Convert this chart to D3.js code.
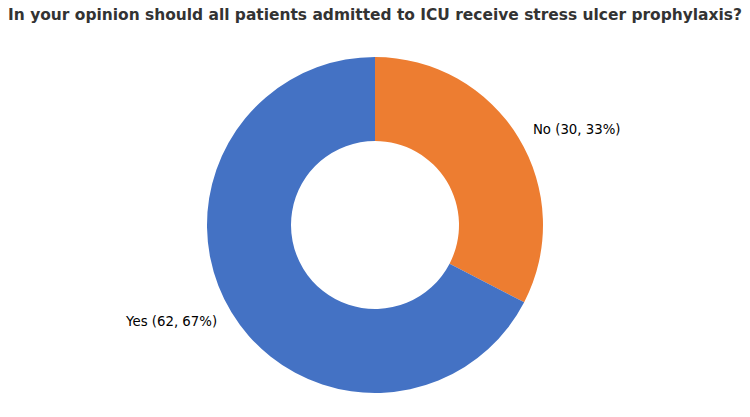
<!DOCTYPE html>
<html>
<head>
<meta charset="utf-8">
<script src="https://cdn.jsdelivr.net/npm/d3@7"></script>
<style>
  body { margin: 0; background: #fff; }
  svg text { font-family: "DejaVu Sans", sans-serif; }
</style>
</head>
<body>
<svg id="chart" width="750" height="417"></svg>
<script>
var categories = ['No', 'Yes'];
var counts = [30, 62];
var colors = ['#ED7D31', '#4472C4'];
var title = 'In your opinion should all patients admitted to ICU receive stress ulcer prophylaxis?';

var svg = d3.select('#chart'),
  cx = 375, cy = 225, outerR = 168, innerR = 84;

svg.append('text')
  .attr('x', 375).attr('y', 20)
  .attr('text-anchor', 'middle')
  .style('font-size', '15.45px').style('font-weight', 'bold').style('fill', '#333')
  .text(title);

var total = d3.sum(counts);
var data = categories.map(function(c, i){ return {name: c, value: counts[i], color: colors[i]}; });

var pie = d3.pie().value(function(d){ return d.value; }).sort(null);
var arc = d3.arc().innerRadius(innerR).outerRadius(outerR);

var g = svg.append('g').attr('transform', 'translate(' + cx + ',' + cy + ')');

g.selectAll('path').data(pie(data)).enter().append('path')
  .attr('d', arc)
  .style('fill', function(d){ return d.data.color; });

// labels sit just outside the ring, like matplotlib's labeldistance=1.1
var labelR = outerR * 1.1;
g.selectAll('text.lbl').data(pie(data)).enter().append('text')
  .classed('lbl', true)
  .each(function(d){
    var a = (d.startAngle + d.endAngle) / 2;
    var x = labelR * Math.sin(a), y = -labelR * Math.cos(a);
    d3.select(this)
      .attr('x', x).attr('y', y)
      .attr('dy', '0.35em')
      .attr('text-anchor', x >= 0 ? 'start' : 'end');
  })
  .style('font-size', '13.3px').style('fill', '#000')
  .text(function(d){
    return d.data.name + ' (' + d.data.value + ', ' + Math.round(d.data.value / total * 100) + '%)';
  });
</script>
</body>
</html>
